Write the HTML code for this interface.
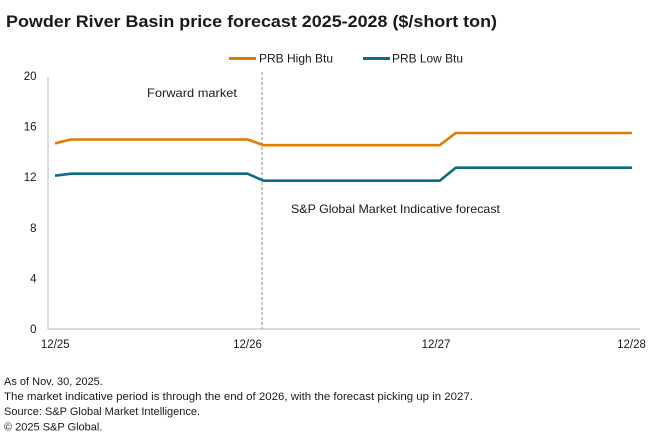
<!DOCTYPE html>
<html>
<head>
<meta charset="utf-8">
<style>
  html, body { margin:0; padding:0; background:#ffffff; }
  body { width:660px; height:444px; overflow:hidden; }
  svg { display:block; }
  text { font-family: "Liberation Sans", "DejaVu Sans", sans-serif; fill:#1a1a1a; }
</style>
</head>
<body>
<svg width="660" height="444" viewBox="0 0 660 444" xmlns="http://www.w3.org/2000/svg">
  <rect x="0" y="0" width="660" height="444" fill="#ffffff"/>

  <!-- Title -->
  <text x="6" y="27" font-size="16.5" font-weight="bold" textLength="491" lengthAdjust="spacingAndGlyphs">Powder River Basin price forecast 2025-2028 ($/short ton)</text>

  <!-- Legend -->
  <line x1="229" y1="58.5" x2="256" y2="58.5" stroke="#E07C00" stroke-width="3"/>
  <text x="259" y="62.5" font-size="12" textLength="74" lengthAdjust="spacingAndGlyphs">PRB High Btu</text>
  <line x1="363" y1="58.5" x2="390" y2="58.5" stroke="#0B6E87" stroke-width="3"/>
  <text x="392" y="62.5" font-size="12" textLength="71" lengthAdjust="spacingAndGlyphs">PRB Low Btu</text>

  <!-- Y tick labels -->
  <g font-size="11.5" text-anchor="end">
    <text x="36.5" y="80">20</text>
    <text x="36.5" y="130.6">16</text>
    <text x="36.5" y="181.2">12</text>
    <text x="36.5" y="231.8">8</text>
    <text x="36.5" y="282.4">4</text>
    <text x="36.5" y="333">0</text>
  </g>

  <!-- Axes -->
  <line x1="48" y1="77" x2="48" y2="329.5" stroke="#c4c4c4" stroke-width="1.2"/>
  <line x1="48" y1="329" x2="640" y2="329" stroke="#c4c4c4" stroke-width="1.2"/>

  <!-- Dashed divider -->
  <line x1="262" y1="72" x2="262" y2="329" stroke="#8c8c8c" stroke-width="1" stroke-dasharray="3,2"/>

  <!-- Annotations -->
  <text x="147" y="97" font-size="12" textLength="90" lengthAdjust="spacingAndGlyphs">Forward  market</text>
  <text x="291" y="213" font-size="12" textLength="209" lengthAdjust="spacingAndGlyphs">S&amp;P Global Market Indicative forecast</text>

  <!-- Series -->
  <polyline fill="none" stroke="#E07C00" stroke-width="2.6" stroke-linejoin="round"
    points="55,143.3 71,139.5 247.5,139.5 263.5,145.2 439.7,145.2 455.7,133 632,133"/>
  <polyline fill="none" stroke="#0B6E87" stroke-width="2.6" stroke-linejoin="round"
    points="55,175.7 71,173.7 247.5,173.7 263.5,180.7 439.7,180.7 455.7,167.7 632,167.7"/>

  <!-- X tick labels -->
  <g font-size="11.5" text-anchor="middle">
    <text x="55.3" y="348">12/25</text>
    <text x="247.5" y="348">12/26</text>
    <text x="436" y="348">12/27</text>
    <text x="631.5" y="348">12/28</text>
  </g>

  <!-- Footer -->
  <g font-size="11">
    <text x="4" y="385">As of Nov. 30, 2025.</text>
    <text x="4" y="400" textLength="469" lengthAdjust="spacingAndGlyphs">The market indicative period is through the end of 2026, with the forecast picking up in 2027.</text>
    <text x="4" y="415">Source: S&amp;P Global Market Intelligence.</text>
    <text x="4" y="430.5">© 2025 S&amp;P Global.</text>
  </g>
</svg>
</body>
</html>
